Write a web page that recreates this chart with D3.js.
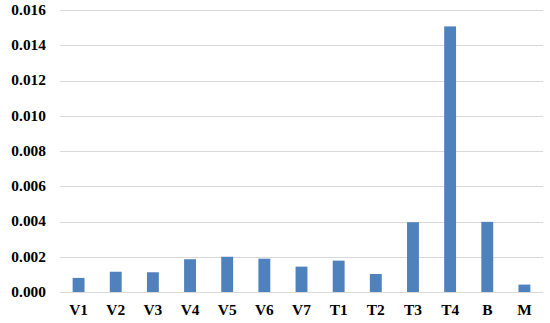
<!DOCTYPE html>
<html>
<head>
<meta charset="utf-8">
<script src="https://cdn.jsdelivr.net/npm/d3@7"></script>
<style>
  body { margin: 0; background: #fff; }
  .tick-label { font-family: "Liberation Serif", "Times New Roman", serif; font-weight: bold; font-size: 14px; fill: #000; }
</style>
</head>
<body>
<div id="chart"></div>
<script>
var categories = ["V1", "V2", "V3", "V4", "V5", "V6", "V7", "T1", "T2", "T3", "T4", "B", "M"];
var values = [0.0008, 0.00115, 0.00112, 0.00186, 0.0020, 0.00189, 0.00144, 0.00178, 0.00102, 0.00396, 0.01507, 0.00398, 0.00042];
var yTicks = [0, 0.002, 0.004, 0.006, 0.008, 0.010, 0.012, 0.014, 0.016];

var data = categories.map(function(c, i){ return {name: c, value: values[i]}; });

var margin = {top: 10, right: 7, bottom: 31, left: 60},
    width = 550 - margin.left - margin.right,
    height = 323 - margin.top - margin.bottom;

// the source text looks a bit stretched sideways
var stretch = 1.1;

var svg = d3.select("#chart").append("svg")
    .attr("width", 550)
    .attr("height", 323)
  .append("g")
    .attr("transform", "translate(" + margin.left + "," + margin.top + ")");

var x = d3.scaleBand()
    .domain(categories)
    .range([0, width])
    .paddingInner(0.68)
    .paddingOuter(0.34);

var y = d3.scaleLinear()
    .domain([0, 0.016])
    .range([height, 0]);

// gridlines
svg.selectAll(".grid")
    .data(yTicks)
  .enter().append("line")
    .attr("class", "grid")
    .attr("x1", 0)
    .attr("x2", width)
    .attr("y1", function(d){ return Math.round(y(d)) + 0.5; })
    .attr("y2", function(d){ return Math.round(y(d)) + 0.5; })
    .attr("stroke", "#d9d9d9")
    .attr("stroke-width", 1);

// y labels
svg.selectAll(".ylab")
    .data(yTicks)
  .enter().append("text")
    .attr("class", "tick-label")
    .attr("transform", function(d){ return "translate(-14," + y(d) + ") scale(" + stretch + ",1)"; })
    .attr("dy", "0.35em")
    .attr("text-anchor", "end")
    .text(function(d){ return d3.format(".3f")(d); });

// bars
svg.selectAll(".bar")
    .data(data)
  .enter().append("rect")
    .attr("class", "bar")
    .attr("x", function(d){ return x(d.name); })
    .attr("width", x.bandwidth())
    .attr("y", function(d){ return y(d.value); })
    .attr("height", function(d){ return height - y(d.value); })
    .attr("fill", "#4f81bd");

// x labels
svg.selectAll(".xlab")
    .data(categories)
  .enter().append("text")
    .attr("class", "tick-label")
    .attr("transform", function(d){ return "translate(" + (x(d) + x.bandwidth() / 2) + "," + (height + 23) + ") scale(" + stretch + ",1)"; })
    .attr("text-anchor", "middle")
    .text(function(d){ return d; });
</script>
</body>
</html>
